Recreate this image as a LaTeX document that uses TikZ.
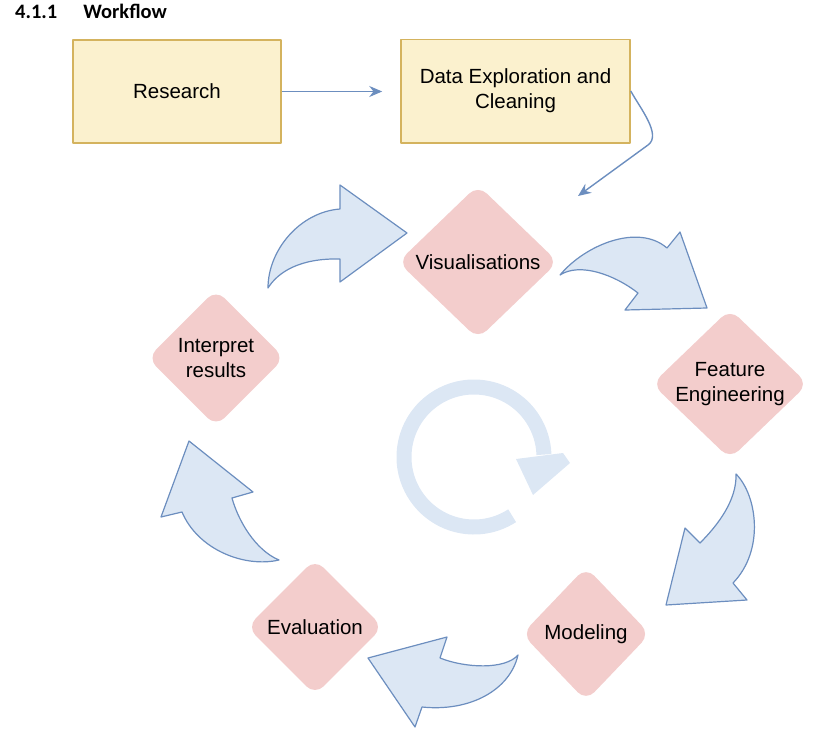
\documentclass[tikz,border=0pt]{standalone}
\usepackage{fontspec}
\setsansfont{Liberation Sans}
\newfontfamily\headfont{Carlito}
\usetikzlibrary{shapes.geometric, arrows.meta}
\definecolor{boxfill}{HTML}{FBF1CE}
\definecolor{boxline}{HTML}{D4B35E}
\definecolor{stagefill}{HTML}{F3CDCC}
\definecolor{blockfill}{HTML}{DCE7F4}
\definecolor{flowline}{HTML}{6C8EBF}
\definecolor{ringfill}{HTML}{DCE7F4}
\begin{document}
\begin{tikzpicture}
[ x=1pt, y=-1pt, line join=round
, phase/.style={rectangle, draw=boxline, fill=boxfill, line width=1.5pt, align=center, font=\sffamily\fontsize{20.5}{25}\selectfont}
, stage/.style={diamond, fill=stagefill, rounded corners=12pt, inner sep=-3pt, align=center, font=\sffamily\fontsize{20.5}{25}\selectfont}
, flow/.style={draw=flowline, line width=1.4pt, -{Stealth[length=13pt, width=11pt]}}
, block/.style={draw=flowline, fill=blockfill, line width=1.2pt}
]
\useasboundingbox (0,0) rectangle (823,734);
% Heading:
\node (title) [anchor=base west, inner sep=0pt, font=\headfont\bfseries\fontsize{20.5}{24}\selectfont] at (15,18) {4.1.1\hspace{26pt}Workflow};
% Preparation boxes:
\node (research) [phase, minimum width=208pt, minimum height=103pt] at (177,91.5) {Research};
\node (explore) [phase, minimum width=229pt, minimum height=103.5pt] at (515.5,91) {Data Exploration and\\Cleaning};
% Cycle stages:
\node (visual) [stage, minimum width=160pt, minimum height=154pt] at (478,262) {Visualisations};
\node (feature) [stage, minimum width=156pt, minimum height=150pt] at (730,384) {Feature\\Engineering};
\node (model) [stage, minimum width=128pt, minimum height=134pt] at (586,634) {Modeling};
\node (evaluate) [stage, minimum width=136pt, minimum height=136pt] at (315,627) {Evaluation};
\node (interpret) [stage, minimum width=137pt, minimum height=137pt] at (216,358) {Interpret\\results};
\coordinate (visin) at (578,196);
% Connectors:
\draw [flow, shorten >=18pt] (research.east) -- (research.east -| explore.west);
\draw [flow] (explore.east) .. controls (640,108) and (662,135) .. (648,145) -- (visin);
% Curved block arrows:
\draw [block] (268,288) .. controls (268,250) and (300,212) .. (340,209) -- (340,185) -- (407,233) -- (340,282) -- (340,259) .. controls (300,258) and (278,272) .. (268,288) -- cycle;
\draw [block] (560,275) .. controls (585,245) and (638,223) .. (667,248) -- (680,232) -- (707,308) -- (625,310) -- (638,293) .. controls (615,275) and (580,262) .. (560,275) -- cycle;
\draw [block] (736,474) .. controls (757,495) and (765,550) .. (733,583) -- (747,600) -- (666,605) -- (685,528) -- (700,543) .. controls (718,525) and (737,500) .. (736,474) -- cycle;
\draw [block] (518,655) .. controls (510,690) and (470,712) .. (422,707) -- (415,727) -- (368,658) -- (447,637) -- (440,658) .. controls (465,668) and (505,670) .. (518,655) -- cycle;
\draw [block] (279,560) .. controls (245,568) and (198,550) .. (182,512) -- (161,517) -- (189,441) -- (253,492) -- (232,498) .. controls (238,520) and (255,550) .. (279,560) -- cycle;
% Central loop:
\draw [ringfill, line width=15pt] (474,457) ++(57:70) arc [start angle=57, end angle=358, radius=70];
\fill [ringfill] (516,459) -- (563,453) -- (570,463) -- (533,495) -- cycle;
\end{tikzpicture}
\end{document}
